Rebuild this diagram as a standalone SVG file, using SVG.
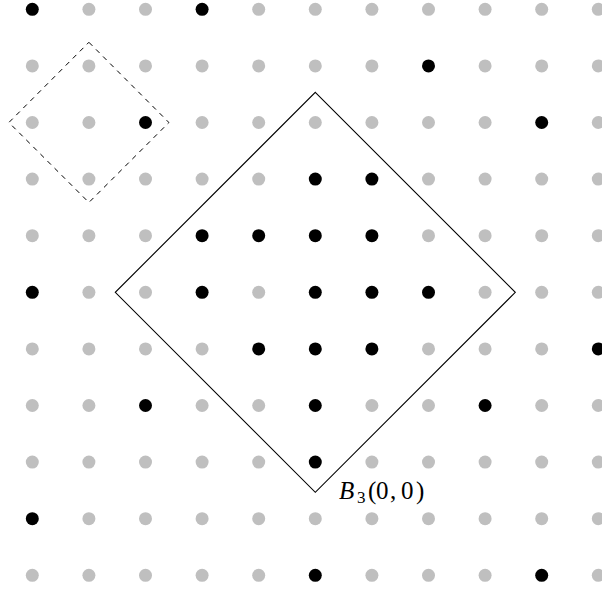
<svg xmlns="http://www.w3.org/2000/svg" width="602" height="590" viewBox="0 0 602 590">
<style>
.g{fill:#bfbfbf}
.b{fill:#000}
.sq{fill:none;stroke:#000;stroke-width:1.1}
.ds{fill:none;stroke:#000;stroke-width:1;stroke-dasharray:5 5}
.lb{font-family:"Liberation Serif","DejaVu Serif",serif;font-size:25px;fill:#000}
</style>
<rect width="602" height="590" fill="#fff"/>
<g id="grid">
<g id="row0"><circle class="b" cx="32.3" cy="9.3" r="6.5"/><circle class="g" cx="88.9" cy="9.3" r="6.5"/><circle class="g" cx="145.5" cy="9.3" r="6.5"/><circle class="b" cx="202.1" cy="9.3" r="6.5"/><circle class="g" cx="258.7" cy="9.3" r="6.5"/><circle class="g" cx="315.3" cy="9.3" r="6.5"/><circle class="g" cx="371.9" cy="9.3" r="6.5"/><circle class="g" cx="428.5" cy="9.3" r="6.5"/><circle class="g" cx="485.1" cy="9.3" r="6.5"/><circle class="g" cx="541.7" cy="9.3" r="6.5"/><circle class="g" cx="598.3" cy="9.3" r="6.5"/></g>
<g id="row1"><circle class="g" cx="32.3" cy="65.9" r="6.5"/><circle class="g" cx="88.9" cy="65.9" r="6.5"/><circle class="g" cx="145.5" cy="65.9" r="6.5"/><circle class="g" cx="202.1" cy="65.9" r="6.5"/><circle class="g" cx="258.7" cy="65.9" r="6.5"/><circle class="g" cx="315.3" cy="65.9" r="6.5"/><circle class="g" cx="371.9" cy="65.9" r="6.5"/><circle class="b" cx="428.5" cy="65.9" r="6.5"/><circle class="g" cx="485.1" cy="65.9" r="6.5"/><circle class="g" cx="541.7" cy="65.9" r="6.5"/><circle class="g" cx="598.3" cy="65.9" r="6.5"/></g>
<g id="row2"><circle class="g" cx="32.3" cy="122.5" r="6.5"/><circle class="g" cx="88.9" cy="122.5" r="6.5"/><circle class="b" cx="145.5" cy="122.5" r="6.5"/><circle class="g" cx="202.1" cy="122.5" r="6.5"/><circle class="g" cx="258.7" cy="122.5" r="6.5"/><circle class="g" cx="315.3" cy="122.5" r="6.5"/><circle class="g" cx="371.9" cy="122.5" r="6.5"/><circle class="g" cx="428.5" cy="122.5" r="6.5"/><circle class="g" cx="485.1" cy="122.5" r="6.5"/><circle class="b" cx="541.7" cy="122.5" r="6.5"/><circle class="g" cx="598.3" cy="122.5" r="6.5"/></g>
<g id="row3"><circle class="g" cx="32.3" cy="179.1" r="6.5"/><circle class="g" cx="88.9" cy="179.1" r="6.5"/><circle class="g" cx="145.5" cy="179.1" r="6.5"/><circle class="g" cx="202.1" cy="179.1" r="6.5"/><circle class="g" cx="258.7" cy="179.1" r="6.5"/><circle class="b" cx="315.3" cy="179.1" r="6.5"/><circle class="b" cx="371.9" cy="179.1" r="6.5"/><circle class="g" cx="428.5" cy="179.1" r="6.5"/><circle class="g" cx="485.1" cy="179.1" r="6.5"/><circle class="g" cx="541.7" cy="179.1" r="6.5"/><circle class="g" cx="598.3" cy="179.1" r="6.5"/></g>
<g id="row4"><circle class="g" cx="32.3" cy="235.7" r="6.5"/><circle class="g" cx="88.9" cy="235.7" r="6.5"/><circle class="g" cx="145.5" cy="235.7" r="6.5"/><circle class="b" cx="202.1" cy="235.7" r="6.5"/><circle class="b" cx="258.7" cy="235.7" r="6.5"/><circle class="b" cx="315.3" cy="235.7" r="6.5"/><circle class="b" cx="371.9" cy="235.7" r="6.5"/><circle class="g" cx="428.5" cy="235.7" r="6.5"/><circle class="g" cx="485.1" cy="235.7" r="6.5"/><circle class="g" cx="541.7" cy="235.7" r="6.5"/><circle class="g" cx="598.3" cy="235.7" r="6.5"/></g>
<g id="row5"><circle class="b" cx="32.3" cy="292.3" r="6.5"/><circle class="g" cx="88.9" cy="292.3" r="6.5"/><circle class="g" cx="145.5" cy="292.3" r="6.5"/><circle class="b" cx="202.1" cy="292.3" r="6.5"/><circle class="g" cx="258.7" cy="292.3" r="6.5"/><circle class="b" cx="315.3" cy="292.3" r="6.5"/><circle class="b" cx="371.9" cy="292.3" r="6.5"/><circle class="b" cx="428.5" cy="292.3" r="6.5"/><circle class="g" cx="485.1" cy="292.3" r="6.5"/><circle class="g" cx="541.7" cy="292.3" r="6.5"/><circle class="g" cx="598.3" cy="292.3" r="6.5"/></g>
<g id="row6"><circle class="g" cx="32.3" cy="348.9" r="6.5"/><circle class="g" cx="88.9" cy="348.9" r="6.5"/><circle class="g" cx="145.5" cy="348.9" r="6.5"/><circle class="g" cx="202.1" cy="348.9" r="6.5"/><circle class="b" cx="258.7" cy="348.9" r="6.5"/><circle class="b" cx="315.3" cy="348.9" r="6.5"/><circle class="b" cx="371.9" cy="348.9" r="6.5"/><circle class="g" cx="428.5" cy="348.9" r="6.5"/><circle class="g" cx="485.1" cy="348.9" r="6.5"/><circle class="g" cx="541.7" cy="348.9" r="6.5"/><circle class="b" cx="598.3" cy="348.9" r="6.5"/></g>
<g id="row7"><circle class="g" cx="32.3" cy="405.5" r="6.5"/><circle class="g" cx="88.9" cy="405.5" r="6.5"/><circle class="b" cx="145.5" cy="405.5" r="6.5"/><circle class="g" cx="202.1" cy="405.5" r="6.5"/><circle class="g" cx="258.7" cy="405.5" r="6.5"/><circle class="b" cx="315.3" cy="405.5" r="6.5"/><circle class="g" cx="371.9" cy="405.5" r="6.5"/><circle class="g" cx="428.5" cy="405.5" r="6.5"/><circle class="b" cx="485.1" cy="405.5" r="6.5"/><circle class="g" cx="541.7" cy="405.5" r="6.5"/><circle class="g" cx="598.3" cy="405.5" r="6.5"/></g>
<g id="row8"><circle class="g" cx="32.3" cy="462.1" r="6.5"/><circle class="g" cx="88.9" cy="462.1" r="6.5"/><circle class="g" cx="145.5" cy="462.1" r="6.5"/><circle class="g" cx="202.1" cy="462.1" r="6.5"/><circle class="g" cx="258.7" cy="462.1" r="6.5"/><circle class="b" cx="315.3" cy="462.1" r="6.5"/><circle class="g" cx="371.9" cy="462.1" r="6.5"/><circle class="g" cx="428.5" cy="462.1" r="6.5"/><circle class="g" cx="485.1" cy="462.1" r="6.5"/><circle class="g" cx="541.7" cy="462.1" r="6.5"/><circle class="g" cx="598.3" cy="462.1" r="6.5"/></g>
<g id="row9"><circle class="b" cx="32.3" cy="518.7" r="6.5"/><circle class="g" cx="88.9" cy="518.7" r="6.5"/><circle class="g" cx="145.5" cy="518.7" r="6.5"/><circle class="g" cx="202.1" cy="518.7" r="6.5"/><circle class="g" cx="258.7" cy="518.7" r="6.5"/><circle class="g" cx="315.3" cy="518.7" r="6.5"/><circle class="g" cx="371.9" cy="518.7" r="6.5"/><circle class="g" cx="428.5" cy="518.7" r="6.5"/><circle class="g" cx="485.1" cy="518.7" r="6.5"/><circle class="g" cx="541.7" cy="518.7" r="6.5"/><circle class="g" cx="598.3" cy="518.7" r="6.5"/></g>
<g id="row10"><circle class="g" cx="32.3" cy="575.3" r="6.5"/><circle class="g" cx="88.9" cy="575.3" r="6.5"/><circle class="g" cx="145.5" cy="575.3" r="6.5"/><circle class="g" cx="202.1" cy="575.3" r="6.5"/><circle class="g" cx="258.7" cy="575.3" r="6.5"/><circle class="b" cx="315.3" cy="575.3" r="6.5"/><circle class="g" cx="371.9" cy="575.3" r="6.5"/><circle class="g" cx="428.5" cy="575.3" r="6.5"/><circle class="g" cx="485.1" cy="575.3" r="6.5"/><circle class="b" cx="541.7" cy="575.3" r="6.5"/><circle class="g" cx="598.3" cy="575.3" r="6.5"/></g>
</g>
<g id="small-diamond"><polygon class="ds" points="88.9,42.3 168.9,122.5 88.9,202.5 8.9,122.5"/></g>
<g id="big-diamond"><polygon class="sq" points="315.3,92.3 515.3,292.3 315.3,492.3 115.3,292.3"/></g>
<g id="label"><text class="lb" y="499"><tspan x="339" font-style="italic">B</tspan><tspan x="357" y="503" font-size="17">3</tspan><tspan x="368" y="499">(</tspan><tspan x="376">0</tspan><tspan x="390">,</tspan><tspan x="401">0</tspan><tspan x="416">)</tspan></text></g>
</svg>
